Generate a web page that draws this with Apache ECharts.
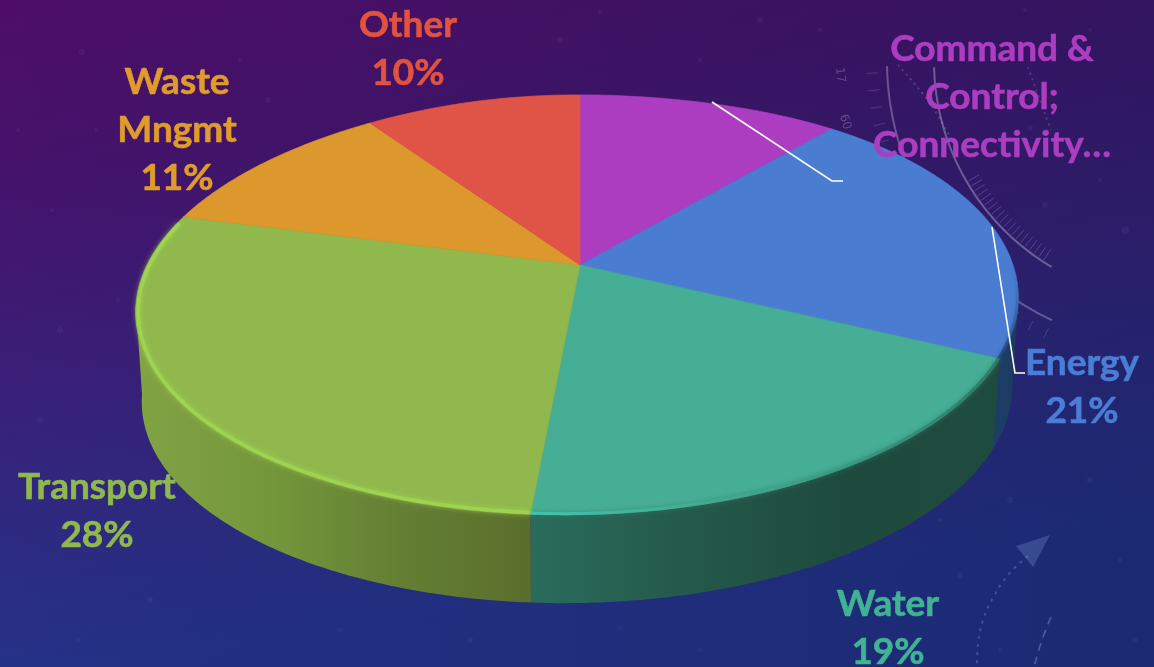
<!DOCTYPE html>
<html>
<head>
<meta charset="utf-8">
<style>html,body{margin:0;padding:0;background:#2a1f70}#chart{width:1154px;height:667px}</style>
<script src="https://cdn.jsdelivr.net/npm/echarts@6/dist/echarts.min.js"></script>
</head>
<body>
<div id="chart"></div>
<script>
// Spending share by sector, clockwise from twelve o'clock
const sectors = ['Command &\nControl;\nConnectivity…', 'Energy', 'Water', 'Transport', 'Waste\nMngmt', 'Other'];
const shares = [11, 21, 19, 28, 11, 10];
// The long first label is cut short before its share
const showsShare = [false, true, true, true, true, true];

// Slice appearance
const faceColors = ['#ac3dc0', '#4a7dd2', '#46ae95', '#90b84c', '#dc982d', '#e05347'];
const textColors = ['#ac3dc0', '#4a7dd6', '#40b393', '#90b84c', '#e09c2b', '#e2533f'];
const wallStops = [
  null,
  { x: [985, 1020], stops: ['#1c4068', '#1c3a62'] },
  { x: [530, 1000], stops: ['#2a6c5c', '#24594b', '#1e4a3e', '#1e4b3f'] },
  { x: [140, 530], stops: ['#82a344', '#74973b', '#647f33', '#5b6e2d'] },
  null,
  null
];

// Label anchors: centre x, centre y of the first line
const labelAnchors = [[992, 49], [1082, 363], [888, 604], [97, 487], [177, 82], [408, 25]];
const leaderLines = [
  [[712, 102], [832, 181], [843, 181]],
  [[992, 227], [1015, 373], [1025, 373]]
];

// Perspective disc: two rims of the cylinder
const PERSP = 0.19;
const topRim = { cx: 580, cy: 265, a: 433, b: 202.4 };
const baseRim = { cx: 580, cy: 355, a: 427, b: 201 };

function rimPoint(rim, deg) {
  const t = deg * Math.PI / 180;
  const u = Math.sin(t), v = -Math.cos(t);
  const d = 1 - PERSP * v;
  // the camera leans a little, so the front of the disc drifts left
  const lean = -16 * v * (v < 0 ? 1 - Math.pow(v, 8) : 1);
  return [rim.cx + rim.a * u / d + lean, rim.cy + rim.b * v / d];
}
function arc(rim, from, to) {
  const pts = [];
  const n = Math.max(2, Math.ceil(Math.abs(to - from) / 0.5));
  for (let i = 0; i <= n; i++) pts.push(rimPoint(rim, from + (to - from) * i / n));
  return pts;
}
function hGradient(x0, x1, colors) {
  return new echarts.graphic.LinearGradient(x0, 0, x1, 0,
    colors.map((c, i) => ({ offset: i / (colors.length - 1), color: c })), true);
}

const total = shares.reduce((s, v) => s + v, 0);
let running = 0;
const sliceData = shares.map((v, i) => {
  const row = [v, running, i];
  running += v;
  return row;
});

const SIDE_FROM = Math.acos(-PERSP) * 180 / Math.PI;
const SIDE_TO = 360 - SIDE_FROM;

function renderSlice(params, api) {
  const value = api.value(0), before = api.value(1), i = api.value(2);
  const a0 = before / total * 360, a1 = (before + value) / total * 360;
  const children = [];

  // outer wall, only where it faces the viewer
  const w0 = Math.max(a0, SIDE_FROM), w1 = Math.min(a1, SIDE_TO);
  if (w1 > w0 && wallStops[i]) {
    const points = arc(topRim, w0, w1).concat(arc(baseRim, w1, w0));
    children.push({
      type: 'polygon', z2: 1, shape: { points },
      style: { fill: hGradient(wallStops[i].x[0], wallStops[i].x[1], wallStops[i].stops) }
    });
  }

  // top face
  children.push({
    type: 'polygon', z2: 2,
    shape: { points: [[topRim.cx, topRim.cy]].concat(arc(topRim, a0, a1)) },
    style: { fill: faceColors[i], stroke: faceColors[i], lineWidth: 0.7 }
  });

  // soft bevel on the rim
  if (i === 3) {
    children.push({
      type: 'polyline', z2: 3, shape: { points: arc({ ...topRim, a: topRim.a - 2.5, b: topRim.b - 1.5 }, a0 + 0.1, a1 - 2) },
      style: { fill: null, stroke: '#a0d650', lineWidth: 3.5, opacity: 0.85, shadowBlur: 5, shadowColor: '#a0d650' }
    });
  } else if (i === 2) {
    children.push({
      type: 'polyline', z2: 3, shape: { points: arc({ ...topRim, a: topRim.a - 1, b: topRim.b - 1 }, a0, a1) },
      style: {
        fill: null, lineWidth: 3, shadowBlur: 5, shadowColor: 'rgba(50,130,110,0.8)',
        stroke: hGradient(530, 1000, ['#42c4aa', '#42ae94', '#3a9a82', '#2f7a68'])
      }
    });
  } else if (i === 1) {
    children.push({
      type: 'polyline', z2: 3, shape: { points: arc({ ...topRim, a: topRim.a - 1, b: topRim.b }, 85, a1) },
      style: {
        fill: null, lineWidth: 3, shadowBlur: 5, shadowColor: 'rgba(30,60,110,0.5)',
        stroke: new echarts.graphic.LinearGradient(0, 260, 0, 360,
          [{ offset: 0, color: 'rgba(60,105,180,0)' }, { offset: 1, color: 'rgba(28,62,110,0.85)' }], true)
      }
    });
  }

  // label: sector name and, where it fits, its share
  const [lx, ly] = labelAnchors[i];
  const text = showsShare[i] ? sectors[i] + '\n' + value + '%' : sectors[i];
  children.push({
    type: 'text', z2: 20,
    style: {
      x: lx, y: ly - 24, text, align: 'center', verticalAlign: 'top',
      fill: textColors[i], stroke: textColors[i], lineWidth: 0.6,
      font: 'bold 37px Lato', lineHeight: 48
    }
  });
  return { type: 'group', children };
}

function renderLeader(params, api) {
  return {
    type: 'polyline', z2: 30,
    shape: { points: leaderLines[api.value(0)] },
    style: { fill: null, stroke: '#ffffff', lineWidth: 1.6 }
  };
}

// Backdrop ornaments: a dial in the upper right, an arrow and specks of dust
const DIAL = [1173, 61];
function dialPoint(r, deg) {
  const t = deg * Math.PI / 180;
  return [DIAL[0] + r * Math.cos(t), DIAL[1] + r * Math.sin(t)];
}
function dialArc(r, from, to, style) {
  const points = [];
  for (let d = from; d <= to + 0.01; d += 1) points.push(dialPoint(r, d));
  return { type: 'polyline', z: -5, silent: true, shape: { points }, style: Object.assign({ fill: null }, style) };
}
function dialTicks(r0, r1, from, to, step, color) {
  const out = [];
  for (let d = from; d <= to + 0.01; d += step) {
    const p = dialPoint(r0, d), q = dialPoint(r1, d);
    out.push({
      type: 'line', z: -5, silent: true,
      shape: { x1: p[0], y1: p[1], x2: q[0], y2: q[1] },
      style: { stroke: color, lineWidth: 1 }
    });
  }
  return out;
}
function dottedTrail(points, alpha) {
  return {
    type: 'polyline', z: -5, silent: true, shape: { points, smooth: 0.3 },
    style: { fill: null, stroke: 'rgba(170,160,200,' + alpha + ')', lineWidth: 2, lineDash: [2, 4] }
  };
}
const dustSpecks = [
  [82, 52, 3], [96, 130, 2], [240, 60, 2], [268, 100, 3], [18, 130, 2], [52, 210, 2], [118, 300, 2], [60, 330, 3],
  [40, 420, 3], [150, 600, 3], [78, 640, 2], [340, 630, 2], [470, 640, 3], [620, 628, 2], [700, 650, 2],
  [760, 20, 3], [1025, 10, 2], [1090, 30, 2], [1100, 180, 2], [1125, 230, 4], [1030, 128, 3], [1045, 205, 3],
  [1090, 480, 3], [1120, 560, 2], [1010, 500, 3], [960, 575, 3], [940, 520, 2], [1000, 650, 2], [1135, 640, 3],
  [430, 28, 2], [560, 40, 3], [600, 12, 2], [700, 60, 2], [820, 30, 2]
];
const dustElements = dustSpecks.map(([cx, cy, r]) => ({
  type: 'circle', z: -6, silent: true, shape: { cx, cy, r },
  style: { fill: 'rgba(140,130,220,0.09)' }
}));
const ornaments = [
  // a cool shade that deepens toward the right
  {
    type: 'rect', z: -8, silent: true, shape: { x: 0, y: 0, width: 1154, height: 667 },
    style: {
      fill: new echarts.graphic.LinearGradient(0, 0, 1154, 0, [
        { offset: 0, color: 'rgba(10,20,60,0)' },
        { offset: 1, color: 'rgba(10,24,70,0.32)' }
      ], true)
    }
  },
  dialArc(239, 120.5, 179, { stroke: 'rgba(170,160,200,0.5)', lineWidth: 2 }),
  dialArc(286, 115, 179, { stroke: 'rgba(170,160,200,0.45)', lineWidth: 2 }),
  dottedTrail([[898, 65], [930, 103], [952, 140]], 0.3),
  dottedTrail([[1028, 67], [1040, 100], [1051, 130]], 0.25),
  ...dialTicks(225, 237, 123, 150, 1.4, 'rgba(170,160,200,0.32)'),
  ...dialTicks(295, 306, 115, 179, 3.3, 'rgba(170,160,200,0.26)'),
  {
    type: 'text', z: -5, silent: true, rotation: -1.45, x: 840, y: 75,
    style: { text: '17', fill: 'rgba(170,160,200,0.35)', font: '12px "DejaVu Sans"', align: 'center', verticalAlign: 'middle' }
  },
  {
    type: 'text', z: -5, silent: true, rotation: -1.25, x: 845, y: 122,
    style: { text: '60', fill: 'rgba(170,160,200,0.4)', font: '12px "DejaVu Sans"', align: 'center', verticalAlign: 'middle' }
  },
  {
    type: 'polygon', z: -5, silent: true, shape: { points: [[1050, 535], [1016, 546], [1033, 567]] },
    style: { fill: 'rgba(100,125,190,0.38)' }
  },
  {
    type: 'polyline', z: -5, silent: true,
    shape: { points: [[1028, 556], [1008, 575], [994, 596], [983, 620], [978, 644], [977, 667]], smooth: 0.4 },
    style: { fill: null, stroke: 'rgba(150,170,220,0.3)', lineWidth: 2, lineDash: [3, 5] }
  },
  {
    type: 'polyline', z: -5, silent: true,
    shape: { points: [[1051, 617], [1042, 640], [1034, 667]], smooth: 0.4 },
    style: { fill: null, stroke: 'rgba(150,170,220,0.4)', lineWidth: 1.6, lineDash: [8, 6] }
  },
  ...dustElements
];

const chart = echarts.init(document.getElementById('chart'), null, { renderer: 'canvas' });
chart.setOption({
  animation: false,
  backgroundColor: new echarts.graphic.LinearGradient(0.04, 0, 0.12, 1, [
    { offset: 0, color: '#4e0e68' },
    { offset: 0.25, color: '#45136c' },
    { offset: 0.55, color: '#3a1f78' },
    { offset: 0.85, color: '#2a2e84' },
    { offset: 1, color: '#243288' }
  ]),
  graphic: { elements: ornaments },
  series: [
    {
      type: 'custom', coordinateSystem: 'none', silent: true, z: 3,
      renderItem: renderSlice, data: sliceData, clip: false
    },
    {
      type: 'custom', coordinateSystem: 'none', silent: true, z: 4,
      renderItem: renderLeader, data: leaderLines.map((_, i) => [i])
    }
  ]
});
</script>
</body>
</html>
